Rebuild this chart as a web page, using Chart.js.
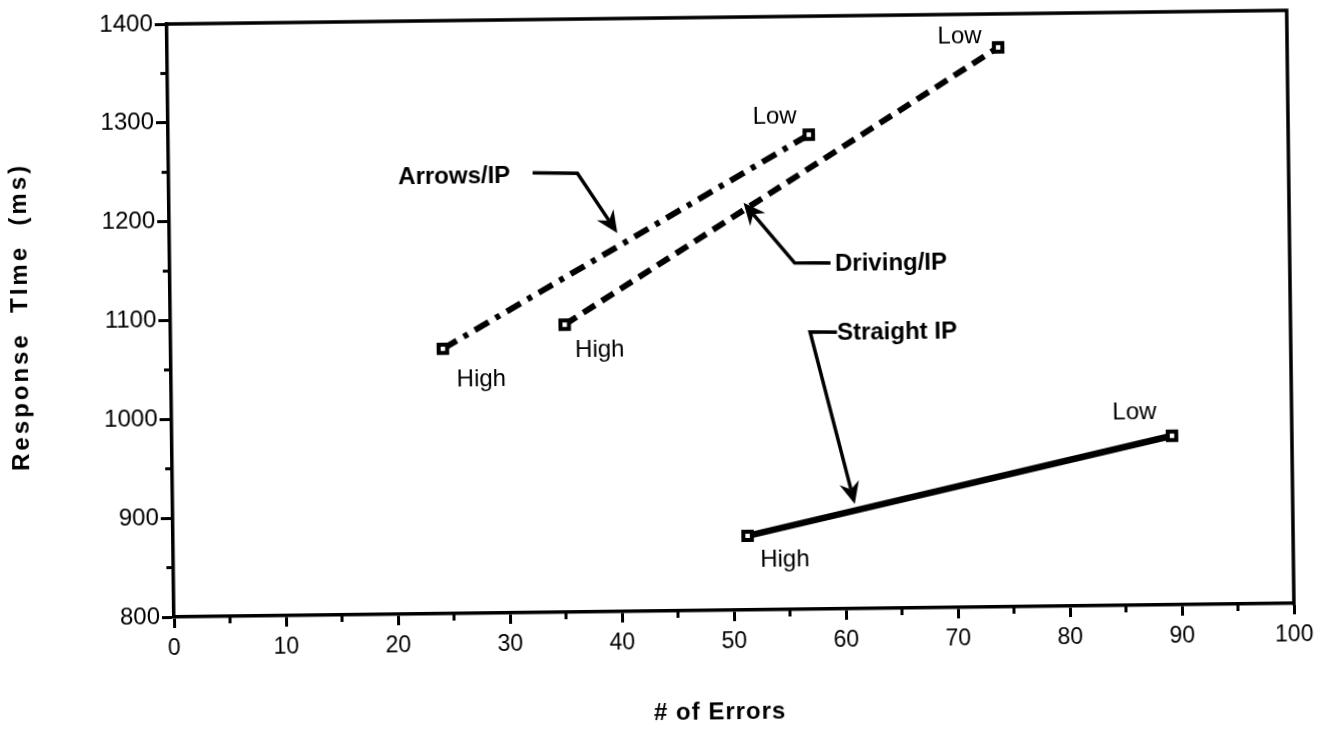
<!DOCTYPE html>
<html><head><meta charset="utf-8">
<script src="https://cdn.jsdelivr.net/npm/chart.js@4.4.1/dist/chart.umd.min.js"></script>
<style>
html,body{margin:0;padding:0;background:#fff;overflow:hidden;width:1334px;height:729px}
#c{position:absolute;left:0;top:0;transform-origin:174px 617px;transform:rotate(-0.7deg)}
</style></head><body>
<canvas id="c" width="1334" height="729"></canvas>
<script>
// ---- data ----
const seriesNames = ['Arrows/IP', 'Driving/IP', 'Straight IP'];
const arrowsErrors = [24.3, 57.2];
const arrowsRT = [1068, 1280];
const drivingErrors = [35.2, 74.2];
const drivingRT = [1091, 1366];
const straightErrors = [51.3, 89.3];
const straightRT = [875, 971];
const pointNames = ['High', 'Low'];
const xTickValues = [0, 10, 20, 30, 40, 50, 60, 70, 80, 90, 100];
const yTickValues = [800, 900, 1000, 1100, 1200, 1300, 1400];
const xMinorTicks = [5, 15, 25, 35, 45, 55, 65, 75, 85, 95];
const yMinorTicks = [850, 950, 1050, 1150, 1250, 1350];
const xTitle = '# of Errors';
const yTitle = 'Response  TIme  (ms)';

// ---- annotation layout (in data units) ----
const seriesLabelPos = [[20.5, 1242], [59.4, 1149], [59.5, 1079]];
const calloutPaths = [
  [[32.5, 1245], [36.5, 1244], [40.0, 1183]],
  [[59.0, 1150], [55.8, 1150.5], [51.3, 1212]],
  [[59.5, 1080], [57.1, 1080.5], [60.9, 906]]
];
const pointLabelPos = [
  [[25.5, 1036], [52.2, 1298]],
  [[36.1, 1065], [68.8, 1377]],
  [[52.4, 850], [84.0, 995]]
];

const FONT = '"Liberation Sans", Arial, Helvetica, sans-serif';
const toPts = (xs, ys) => xs.map((x, i) => ({x: x, y: ys[i]}));

const annot = {
  id: 'annot',
  afterDraw(chart) {
    const ctx = chart.ctx, a = chart.chartArea, xs = chart.scales.x, ys = chart.scales.y;
    const P = (p) => [xs.getPixelForValue(p[0]), ys.getPixelForValue(p[1])];
    ctx.save();
    ctx.strokeStyle = '#000'; ctx.fillStyle = '#000';
    // top & right frame
    ctx.lineWidth = 3.5; ctx.lineCap = 'square';
    ctx.beginPath(); ctx.moveTo(a.left, a.top); ctx.lineTo(a.right, a.top); ctx.lineTo(a.right, a.bottom); ctx.stroke();
    // minor ticks
    ctx.lineWidth = 3; ctx.lineCap = 'butt';
    xMinorTicks.forEach(v => { const px = xs.getPixelForValue(v); ctx.beginPath(); ctx.moveTo(px, a.bottom); ctx.lineTo(px, a.bottom + 7); ctx.stroke(); });
    yMinorTicks.forEach(v => { const py = ys.getPixelForValue(v); ctx.beginPath(); ctx.moveTo(a.left, py); ctx.lineTo(a.left - 7, py); ctx.stroke(); });
    // callouts with arrowheads
    calloutPaths.forEach(path => {
      const pts = path.map(P);
      const n = pts.length, T = pts[n - 1], B = pts[n - 2];
      let dx = T[0] - B[0], dy = T[1] - B[1]; const len = Math.hypot(dx, dy); dx /= len; dy /= len;
      const L = 22, W = 10, notch = 15;
      ctx.lineWidth = 3.5; ctx.lineJoin = 'miter'; ctx.lineCap = 'butt';
      ctx.beginPath(); ctx.moveTo(pts[0][0], pts[0][1]);
      for (let i = 1; i < n - 1; i++) ctx.lineTo(pts[i][0], pts[i][1]);
      ctx.lineTo(T[0] - dx * notch, T[1] - dy * notch); ctx.stroke();
      ctx.beginPath();
      ctx.moveTo(T[0], T[1]);
      ctx.lineTo(T[0] - dx * L - dy * W, T[1] - dy * L + dx * W);
      ctx.lineTo(T[0] - dx * notch, T[1] - dy * notch);
      ctx.lineTo(T[0] - dx * L + dy * W, T[1] - dy * L - dx * W);
      ctx.closePath(); ctx.fill();
    });
    // series labels
    ctx.textBaseline = 'middle'; ctx.textAlign = 'left';
    ctx.font = 'bold 24px ' + FONT;
    seriesNames.forEach((s, i) => { const p = P(seriesLabelPos[i]); ctx.fillText(s, p[0], p[1]); });
    // point labels
    ctx.font = '24px ' + FONT;
    pointLabelPos.forEach(pair => pair.forEach((pos, j) => { const p = P(pos); ctx.fillText(pointNames[j], p[0], p[1]); }));
    // axis titles
    ctx.font = 'bold 24px ' + FONT; ctx.textAlign = 'center';
    try { ctx.letterSpacing = '1px'; } catch (e) {}
    ctx.fillText(xTitle, 719, 719);
    try { ctx.letterSpacing = '3px'; } catch (e) {}
    ctx.translate(24, 315); ctx.rotate(-Math.PI / 2);
    ctx.fillText(yTitle, 0, 0);
    ctx.restore();
  }
};

const lineDs = (label, xs, ys, dash, w) => ({
  label: label, data: toPts(xs, ys), showLine: true,
  borderColor: '#000', borderWidth: w, borderDash: dash, borderCapStyle: 'butt',
  pointStyle: 'rect', pointRadius: 6, pointBorderWidth: 4,
  pointBackgroundColor: '#fff', pointBorderColor: '#000', tension: 0
});

new Chart(document.getElementById('c'), {
  type: 'scatter',
  data: {
    datasets: [
      lineDs(seriesNames[0], arrowsErrors, arrowsRT, [16, 8, 5, 8], 6),
      lineDs(seriesNames[1], drivingErrors, drivingRT, [14, 8], 6),
      lineDs(seriesNames[2], straightErrors, straightRT, [], 6.5)
    ]
  },
  options: {
    responsive: false, animation: false, devicePixelRatio: 1,
    layout: {padding: {top: 24, right: 40, left: 0, bottom: 0}},
    plugins: {legend: {display: false}, tooltip: {enabled: false}},
    scales: {
      x: {
        type: 'linear', min: 0, max: 100,
        afterBuildTicks: s => { s.ticks = xTickValues.map(v => ({value: v})); },
        afterFit: s => { s.height = 112; },
        grid: {drawOnChartArea: false, drawTicks: true, tickLength: 11, tickWidth: 3, tickColor: '#000'},
        border: {display: true, color: '#000', width: 3.5},
        ticks: {color: '#000', font: {family: FONT, size: 23}, padding: 7, maxRotation: 0, autoSkip: false,
                callback: v => String(v)}
      },
      y: {
        type: 'linear', min: 800, max: 1400,
        afterBuildTicks: s => { s.ticks = yTickValues.map(v => ({value: v})); },
        afterFit: s => { s.width = 174; },
        grid: {drawOnChartArea: false, drawTicks: true, tickLength: 12, tickWidth: 3, tickColor: '#000'},
        border: {display: true, color: '#000', width: 3.5},
        ticks: {color: '#000', font: {family: FONT, size: 24}, padding: 2, autoSkip: false,
                callback: v => String(v)}
      }
    }
  },
  plugins: [annot]
});
</script>
</body></html>
